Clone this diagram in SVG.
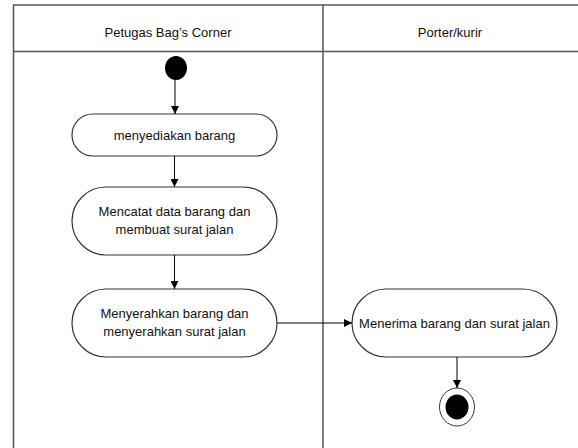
<svg xmlns="http://www.w3.org/2000/svg" width="578" height="448" viewBox="0 0 578 448">
<style>
.lane{fill:none;stroke:#555;stroke-width:1.5}
.act{fill:#fff;stroke:#333;stroke-width:1.2}
.t{font-family:"Liberation Sans",Arial,sans-serif;font-size:13px;fill:#111;text-anchor:middle}
.c{stroke:#000;stroke-width:1;fill:none}
</style>
<defs>
<marker id="ah" viewBox="0 0 10 10" refX="10" refY="5" markerWidth="8" markerHeight="8" markerUnits="userSpaceOnUse" orient="auto">
<path d="M0,0 L10,5 L0,10 z" fill="#000"/>
</marker>
</defs>
<rect width="578" height="448" fill="#fff"/>
<g id="swimlanes">
<rect class="lane" x="13.5" y="5" width="570" height="460"/>
<line class="lane" x1="13.5" y1="51.5" x2="578" y2="51.5"/>
<line class="lane" x1="323" y1="5" x2="323" y2="460"/>
<text class="t" x="168" y="37">Petugas Bag’s Corner</text>
<text class="t" x="450" y="37">Porter/kurir</text>
</g>
<g id="start"><ellipse cx="176" cy="68" rx="11" ry="12" fill="#000"/></g>
<g id="a1">
<rect class="act" x="72" y="114" width="205" height="42" rx="21" ry="21"/>
<text class="t" x="174.5" y="139.5">menyediakan barang</text>
</g>
<g id="a2">
<rect class="act" x="72" y="187" width="205" height="68" rx="34" ry="34"/>
<text class="t" x="174.5" y="216">Mencatat data barang dan</text>
<text class="t" x="174.5" y="234">membuat surat jalan</text>
</g>
<g id="a3">
<rect class="act" x="72" y="289" width="205" height="68" rx="34" ry="34"/>
<text class="t" x="174.5" y="318">Menyerahkan barang dan</text>
<text class="t" x="174.5" y="336">menyerahkan surat jalan</text>
</g>
<g id="a4">
<rect class="act" x="352" y="289" width="205" height="68" rx="34" ry="34"/>
<text class="t" x="454.5" y="327.5">Menerima barang dan surat jalan</text>
</g>
<g id="end">
<ellipse cx="457" cy="407" rx="17.5" ry="19" fill="#fff" stroke="#333" stroke-width="1"/>
<ellipse cx="457" cy="407" rx="11.5" ry="12.5" fill="#000"/>
</g>
<g id="connectors">
<line class="c" x1="175" y1="80" x2="175" y2="114" marker-end="url(#ah)"/>
<line class="c" x1="174.5" y1="156" x2="174.5" y2="187" marker-end="url(#ah)"/>
<line class="c" x1="174.5" y1="255" x2="174.5" y2="289" marker-end="url(#ah)"/>
<line class="c" x1="277" y1="323" x2="352" y2="323" marker-end="url(#ah)"/>
<line class="c" x1="457" y1="357" x2="457" y2="388" marker-end="url(#ah)"/>
</g>
</svg>
